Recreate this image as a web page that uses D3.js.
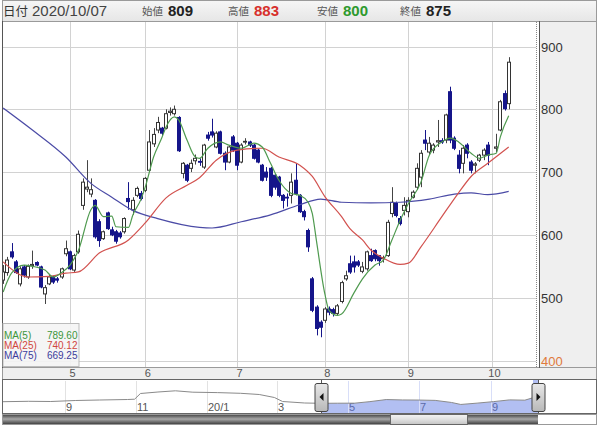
<!DOCTYPE html>
<html><head><meta charset="utf-8">
<script src="https://cdn.jsdelivr.net/npm/d3@7"></script>
<style>
html,body{margin:0;padding:0;background:#fff;}
svg{display:block;}
</style></head>
<body>
<svg id="c" width="600" height="429"></svg>
<script>
// ---------- DATA ----------
const dates = [
"04-08","04-09","04-10","04-13","04-14","04-15","04-16","04-17","04-20","04-21","04-22","04-23","04-24","04-27","04-28","04-30",
"05-01","05-07","05-08","05-11","05-12","05-13","05-14","05-15","05-18","05-19","05-20","05-21","05-22","05-25","05-26","05-27","05-28","05-29",
"06-01","06-02","06-03","06-04","06-05","06-08","06-09","06-10","06-11","06-12","06-15","06-16","06-17","06-18","06-19","06-22","06-23","06-24","06-25","06-26","06-29","06-30",
"07-01","07-02","07-03","07-06","07-07","07-08","07-09","07-10","07-13","07-14","07-15","07-16","07-17","07-20","07-21","07-22","07-27","07-28","07-29","07-30","07-31",
"08-03","08-04","08-05","08-06","08-07","08-11","08-12","08-13","08-14","08-17","08-18","08-19","08-20","08-21","08-24","08-25","08-26","08-27","08-28","08-31",
"09-01","09-02","09-03","09-04","09-07","09-08","09-09","09-10","09-11","09-14","09-15","09-16","09-17","09-18","09-23","09-24","09-25","09-28","09-29","09-30",
"10-01","10-02","10-05","10-06","10-07"];

const open = [528,540,573,557,522,549,533,551,556,549, 506,522,533,530,533,570,573,544,573,647,
673,665,655,621,594,635,608,605,603,605, 658,640,663,666,671,703,745,767,770,770,
795,793,787,698,711,706,718,717,708,759, 764,740,764,730,716,756,746,716,748,748,
743,735,711,700,706,695,692,663,660,663, 687,663,637,607,530,485,461,464,482,481,
475,494,530,554,557,557,542,546,567,575, 567,562,567,634,650,626,639,637,660,676,
692,751,732,735,748,750,751,828,754,727, 714,743,716,711,719,727,743,null,738,767, 825,809];
const high = [552,565,587,560,550,552,553,575,558,551, 520,536,535,533,548,591,575,570,607,690,
719,690,657,625,607,637,613,608,606,628, 684,660,677,670,692,767,770,788,772,800,
803,806,789,716,713,720,728,722,745,764, 785,765,766,733,742,759,748,746,754,750,
745,737,713,708,708,697,694,665,666,698, 714,665,640,610,533,488,464,485,486,484,
490,527,543,567,567,560,557,575,578,577, 568,567,624,676,653,630,660,660,671,714,
735,767,756,746,783,754,793,836,757,735, 743,746,719,716,729,738,748,null,761,815, 830,883];
const low = [522,535,562,538,518,532,530,546,550,515, 490,520,522,524,530,566,544,541,570,640,
668,660,594,581,592,608,598,586,594,602, 640,632,660,655,668,700,740,762,758,768,
790,790,732,690,684,700,712,710,705,750, 755,738,728,703,714,732,703,714,744,740,
720,714,685,686,660,672,660,642,645,650, 663,635,623,573,477,440,437,460,472,470,
472,491,527,538,540,549,539,543,557,558, 551,556,565,628,628,615,631,628,658,672,
676,735,727,730,740,745,746,746,735,698, 698,722,698,698,716,719,711,null,732,765, 798,800];
const close = [541,560,565,540,546,536,550,553,552,517, 516,533,525,528,546,578,546,567,601,684,
676,672,597,591,605,610,600,590,597,626, 653,655,674,658,690,748,760,779,762,793,
797,800,734,714,687,714,722,716,743,754, 759,762,730,716,740,735,711,743,749,743,
722,716,687,692,663,676,663,655,659,684, 666,637,629,581,480,451,453,482,477,475,
487,524,535,541,549,552,549,573,559,562, 559,564,620,652,631,618,647,655,668,706,
730,746,746,743,750,748,791,751,738,706, 738,730,703,713,727,735,727,null,740,812, 801,875];

// moving averages: [candle index, value]
const ma5 = [[0,509],[2,539],[5,552],[7,550],[10,544],[12,533],[14,540],[16,552],[18,575],[21,640],[22,647],[24,629],[26,630],[27,613],[30,612],[31,631],[33,657],[34,676],[36,724],[38,755],[39,772],[41,788],[42,783],[44,751],[46,724],[47,722],[49,738],[52,748],[54,743],[57,738],[60,746],[62,740],[64,714],[66,687],[69,666],[71,663],[73,652],[74,634],[75,590],[77,506],[78,480],[80,472],[81,474],[84,508],[86,530],[89,552],[91,560],[93,591],[95,623],[97,650],[100,684],[102,727],[105,748],[107,754],[109,748],[112,730],[114,722],[116,727],[118,730],[119,756],[121,789.6]];
const ma25 = [[0,557],[6,533],[11,534],[15,539],[18,541],[23,571],[30,592],[34,619],[39,659],[44,679],[47,691],[51,719],[56,735],[62,738],[66,724],[71,711],[74,693],[77,661],[81,629],[83,610],[86,592],[88,576],[91,563],[95,553],[97,555],[100,581],[105,629],[109,667],[112,693],[116,714],[121,740.12]];
const ma75 = [[0,802],[7,767],[15,724],[21,682],[26,660],[31,639],[37,626],[47,612],[50,611],[57,621],[64,632],[71,648],[76,657],[81,652],[88,651],[95,652],[102,657],[108,665],[112,667],[116,664],[121,669.25]];
const maNames = ["MA(5)","MA(25)","MA(75)"];
const maLast = ["789.60","740.12","669.25"];

const yTicks = [400,500,600,700,800,900];
const monthLabels = ["5","6","7","8","9","10"];
const monthStarts = ["05-01","06-01","07-01","08-03","09-01","10-01"];

const headerDate = "2020/10/07";
const headerNames = ["始値","高値","安値","終値"];

// navigator overview
const navDates = ["2019-07-10","2019-08-01","2019-08-20","2019-09-10","2019-10-01","2019-10-25","2019-10-31","2019-11-05","2019-11-20","2019-12-05","2019-12-20","2020-01-10","2020-01-30","2020-02-15","2020-02-28","2020-03-06","2020-03-25","2020-04-08","2020-04-22","2020-05-07","2020-05-20","2020-06-03","2020-06-17","2020-07-01","2020-07-15","2020-07-29","2020-08-06","2020-08-20","2020-09-03","2020-09-17","2020-09-30","2020-10-07"];
const navValues = [636,660,648,708,738,768,786,1128,1218,1290,1206,1182,1140,1068,888,648,558,540,545,548,640,765,740,735,715,590,470,550,640,745,727,875];
const navTickDates = ["2019-09-01","2019-11-01","2020-01-01","2020-03-01","2020-05-01","2020-07-01","2020-09-01"];
const navTickLabels = ["9","11","20/1","3","5","7","9"];
const navSelStart = "2020-04-08";

// ---------- DRAW ----------
const svg = d3.select("#c");
const font = "'Liberation Sans', Arial, sans-serif";
const defs = svg.append("defs");
function grad(id, stops){
  const g = defs.append("linearGradient").attr("id",id).attr("x1",0).attr("x2",0).attr("y1",0).attr("y2",1);
  stops.forEach(s=>g.append("stop").attr("offset",s[0]).attr("stop-color",s[1]));
}
grad("hdr",[[0,"#f6f6f6"],[1,"#e6e6e6"]]);
grad("track",[[0,"#4e4e4e"],[0.45,"#a8a8a8"],[1,"#444"]]);
grad("thumb",[[0,"#f4f4f4"],[0.5,"#e0e0e0"],[1,"#c4c4c4"]]);
grad("handle",[[0,"#e8e8e8"],[1,"#b8b8b8"]]);
defs.append("clipPath").attr("id","plotclip").append("rect").attr("x",3).attr("y",22).attr("width",533).attr("height",345);

// backgrounds / frames
svg.append("rect").attr("x",2.5).attr("y",0.5).attr("width",594).attr("height",21).attr("fill","url(#hdr)").attr("stroke","#9a9a9a");
svg.append("rect").attr("x",3).attr("y",22).attr("width",534).attr("height",345).attr("fill","#fff");
svg.append("rect").attr("x",539.5).attr("y",21.5).attr("width",57).attr("height",346).attr("fill","#efefef").attr("stroke","#9a9a9a");
svg.append("rect").attr("x",2.5).attr("y",367.5).attr("width",594).attr("height",12).attr("fill","#efefef").attr("stroke","#9a9a9a");
svg.append("rect").attr("x",2.5).attr("y",379.5).attr("width",594).attr("height",34).attr("fill","#fff").attr("stroke","#666");
svg.append("line").attr("x1",2.5).attr("x2",2.5).attr("y1",21).attr("y2",368).attr("stroke","#555");
svg.append("line").attr("x1",539.5).attr("x2",539.5).attr("y1",21).attr("y2",368).attr("stroke","#555");

// scales
const x = d3.scalePoint().domain(dates).range([3.15, 508.7]);
const xi = d3.scaleLinear().domain([0, dates.length-1]).range([3.15, 508.7]);
const y = d3.scaleLinear().domain([400, 900]).range([360.5, 46.5]);

// gridlines
const grid = svg.append("g");
yTicks.forEach(t=>{
  const yy = Math.round(y(t))+0.5;
  grid.append("line").attr("x1",3).attr("x2",536).attr("y1",yy).attr("y2",yy).attr("stroke","#d2d2d2");
});
monthStarts.forEach(d=>{
  const xx = Math.round(x(d))+0.5;
  grid.append("line").attr("x1",xx).attr("x2",xx).attr("y1",22).attr("y2",367).attr("stroke","#d2d2d2");
});
svg.append("line").attr("x1",536.5).attr("x2",536.5).attr("y1",22).attr("y2",367).attr("stroke","#888").attr("stroke-dasharray","1,1");

// right axis labels
const yAxis = d3.axisRight(y).tickValues(yTicks).tickSize(0).tickPadding(0);
const ya = svg.append("g").attr("transform","translate(541,0)").call(yAxis);
ya.select(".domain").remove();
ya.selectAll("text").attr("font-family",font).attr("font-size","13px")
  .attr("fill",d=>d===400?"#e07a3c":"#333").attr("dy","0.35em");

// month axis labels
const xa = svg.append("g").attr("transform","translate(2,369)")
  .call(d3.axisBottom(x).tickValues(monthStarts).tickFormat((d,i)=>monthLabels[i]).tickSize(0).tickPadding(0));
xa.select(".domain").remove();
xa.selectAll("text").attr("font-family",font).attr("font-size","11px").attr("fill","#555").attr("dy","0.71em");

// candles
const idx = d3.range(dates.length).filter(i=>open[i]!=null);
const cg = svg.append("g").attr("clip-path","url(#plotclip)");
const up = "#333", down = "#15158a";
cg.selectAll("line.w").data(idx).join("line")
  .attr("x1",i=>Math.round(x(dates[i]))+0.5).attr("x2",i=>Math.round(x(dates[i]))+0.5)
  .attr("y1",i=>y(high[i])).attr("y2",i=>y(low[i]))
  .attr("stroke",i=>close[i]>=open[i]?"#444":down).attr("stroke-width",1);
cg.selectAll("rect.b").data(idx).join("rect")
  .attr("x",i=>Math.round(x(dates[i]))-1.5)
  .attr("width",3)
  .attr("y",i=>y(Math.max(open[i],close[i])))
  .attr("height",i=>Math.max(0.8, Math.abs(y(open[i])-y(close[i]))))
  .attr("fill",i=>close[i]>=open[i]?"#fff":down)
  .attr("stroke",i=>close[i]>=open[i]?up:down).attr("stroke-width",1);

// moving averages
const line = d3.line().x(d=>xi(d[0])).y(d=>y(d[1])).curve(d3.curveMonotoneX);
const maCols = ["#4f9a4f","#d2524f","#4b4ba6"];
[[ma75,2],[ma25,1],[ma5,0]].forEach(([s,k])=>{
  cg.append("path").attr("d",line(s)).attr("fill","none")
    .attr("stroke",maCols[k]).attr("stroke-width",1.2);
});

// legend box
const lg = svg.append("g");
lg.append("rect").attr("x",3).attr("y",323.5).attr("width",76).attr("height",43).attr("fill","#f4f4f4").attr("fill-opacity",0.9).attr("stroke","#bbb");
const txtCols = ["#3c963c","#d0463e","#3c3c9c"];
maNames.forEach((n,k)=>{
  const by = 338.5 + k*10.2;
  lg.append("text").attr("x",4).attr("y",by).text(n).attr("font-family",font).attr("font-size","10px")
    .attr("fill",txtCols[k]);
  lg.append("text").attr("x",77.5).attr("y",by).attr("text-anchor","end").text(maLast[k]).attr("font-family",font).attr("font-size","10px")
    .attr("fill",txtCols[k]);
});

// header
const last = dates.length-1;
const hdr = svg.append("g");
hdr.append("text").attr("x",3).attr("y",15.5).text("日付").attr("font-family","'Noto Sans CJK JP'").attr("font-size","12.5px").attr("fill","#333");
hdr.append("text").attr("x",32).attr("y",15.5).text(headerDate).attr("font-family",font).attr("font-size","15px").attr("fill","#444");
const hv = [open[last], high[last], low[last], close[last]];
const hx = [142,228,317,400];
const hcol = ["#222","#d7302c","#2e9a2e","#222"];
headerNames.forEach((n,k)=>{
  hdr.append("text").attr("x",hx[k]).attr("y",15).text(n).attr("font-family","'Noto Sans CJK JP'").attr("font-size","10.5px").attr("fill","#555");
  hdr.append("text").attr("x",hx[k]+26).attr("y",15.5).text(hv[k]).attr("font-family",font).attr("font-weight","bold").attr("font-size","15px").attr("fill",hcol[k]);
});

// navigator
const pd = d3.timeParse("%Y-%m-%d");
const xn = d3.scaleTime().domain([pd("2019-07-10"), pd("2020-10-07")]).range([3, 533]);
const yn = d3.scaleLinear().domain([0,1800]).range([412.3,382.3]);
const navPts = navDates.map((d,i)=>[pd(d), navValues[i]]);
const sel = pd(navSelStart);
const navG = svg.append("g");
const area = d3.area().x(d=>xn(d[0])).y0(413).y1(d=>yn(d[1]));
navG.append("path").attr("d",area(navPts.filter(p=>p[0]>=sel))).attr("fill","#b2bff2");
navG.append("rect").attr("x",533).attr("y",380).attr("width",6).attr("height",33).attr("fill","#b2bff2");
navTickDates.forEach((d,i)=>{
  const xx = Math.round(xn(pd(d)))+0.5;
  const inSel = pd(d)>=sel;
  navG.append("line").attr("x1",xx).attr("x2",xx).attr("y1",381).attr("y2",413).attr("stroke",inSel?"#d8def8":"#e2e2e2");
  navG.append("text").attr("x",xx+0.5).attr("y",410.5).text(navTickLabels[i]).attr("font-family",font).attr("font-size","11px").attr("fill",inSel?"#5a6aaa":"#555");
});
navG.append("path").attr("d",d3.line().x(d=>xn(d[0])).y(d=>yn(d[1]))(navPts)).attr("fill","none").attr("stroke","#8a8a8a").attr("stroke-width",1);

function handle(cx, dir){
  const g = navG.append("g");
  g.append("line").attr("x1",cx).attr("x2",cx).attr("y1",380).attr("y2",413).attr("stroke","#555");
  g.append("rect").attr("x",cx-6.5).attr("y",383.5).attr("width",13).attr("height",28).attr("rx",2).attr("fill","url(#handle)").attr("stroke","#444");
  const t = dir<0 ? `M${cx+2},393 L${cx-2},397 L${cx+2},401 Z` : `M${cx-2},393 L${cx+2},397 L${cx-2},401 Z`;
  g.append("path").attr("d",t).attr("fill","#111");
}
handle(Math.round(xn(sel))+0.5, -1);
handle(538.5, 1);

// scrollbar
svg.append("rect").attr("x",2.5).attr("y",414.5).attr("width",594).attr("height",10).attr("fill","#fff").attr("stroke","#999");
svg.append("rect").attr("x",3).attr("y",415).attr("width",535).attr("height",9).attr("fill","url(#track)");
svg.append("rect").attr("x",390.5).attr("y",414.5).attr("width",77).attr("height",10).attr("fill","url(#thumb)").attr("stroke","#666");
</script>
</body></html>
